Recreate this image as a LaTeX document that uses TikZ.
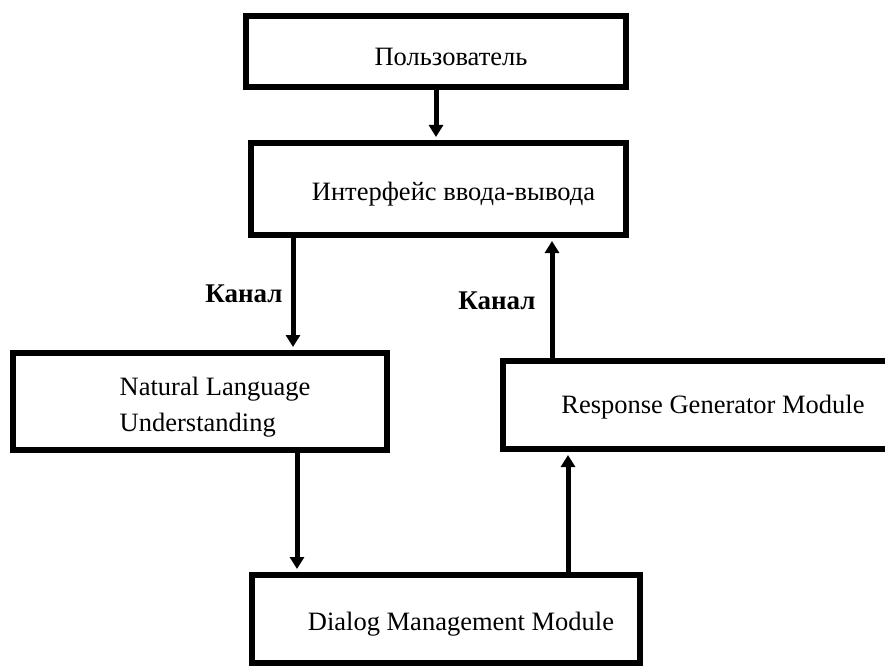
\documentclass[tikz,border=0pt]{standalone}
\usepackage{fontspec}
\setmainfont{Liberation Serif}
\usetikzlibrary{arrows.meta}

\begin{document}
\begin{tikzpicture}[x=1pt,y=-1pt,
    box/.style={draw,line width=6pt,inner sep=0pt},
    txt/.style={xshift=15pt,yshift=-5pt,inner sep=0pt,font=\fontsize{26.5}{36}\selectfont,align=left},
    arr/.style={line width=5pt,-{Triangle[width=14pt,length=12pt]},shorten >=3pt},
    chan/.style={inner sep=0pt,font=\fontsize{27}{30}\selectfont\bfseries}]

   \useasboundingbox (0,0) rectangle (885,668);
   \clip (0,0) rectangle (885,668);

   \node[box,minimum width=380pt,minimum height=71pt,label={[txt]center:Пользователь}] (user) at (436,51.5) {};
   \node[box,minimum width=375pt,minimum height=92pt,label={[txt]center:Интерфейс ввода-вывода}] (io) at (438.5,189) {};
   \node[box,minimum width=374pt,minimum height=97pt,label={[txt,yshift=-1pt]center:{Natural Language\\Understanding}}] (nlu) at (200,401.5) {};
   \node[box,minimum width=390pt,minimum height=88pt,label={[txt,yshift=3pt]center:Response Generator Module}] (resp) at (698,405) {};
   \node[box,minimum width=388pt,minimum height=88pt,label={[txt]center:Dialog Management Module}] (dm) at (446,619) {};

   % x of the vertical channels
   \coordinate (k1) at (293,0);
   \coordinate (k2) at (297,0);
   \coordinate (k3) at (568,0);
   \coordinate (k4) at (552,0);

   \draw[arr] (user.south) -- (io.north -| user.south);
   \draw[arr] (io.south -| k1) -- node[chan,left=8pt] {Канал} (nlu.north -| k1);
   \draw[arr] (nlu.south -| k2) -- (dm.north -| k2);
   \draw[arr] (dm.north -| k3) -- (resp.south -| k3);
   \draw[arr] (resp.north -| k4) -- node[chan,left=14pt,yshift=-3pt] {Канал} (io.south -| k4);
\end{tikzpicture}
\end{document}
